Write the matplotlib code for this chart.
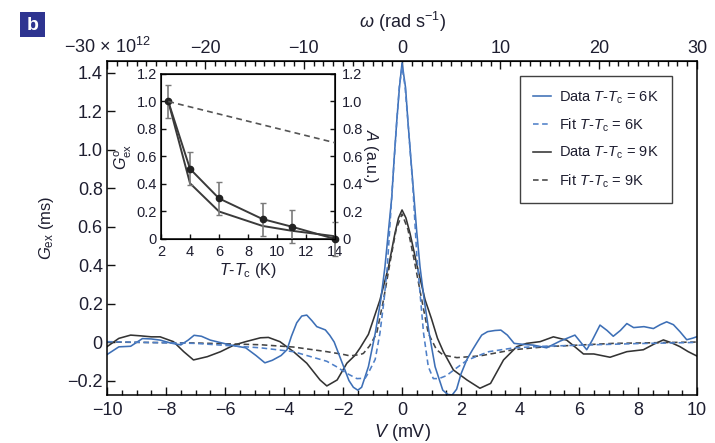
import matplotlib
matplotlib.use("Agg")
import matplotlib.pyplot as plt
from matplotlib import font_manager
from matplotlib.ticker import MultipleLocator, FixedLocator, FuncFormatter
from matplotlib.patches import Rectangle

# ---------------- data ----------------
# T - Tc = 6 K : measured excess conductance
V6 = [-10.0, -9.6, -9.2, -8.8, -8.5, -8.2, -7.85, -7.5, -7.25, -7.05, -6.8, -6.5, -6.1, -5.8,
      -5.3, -4.95, -4.65, -4.4, -4.1, -3.9, -3.75, -3.57, -3.4, -3.23, -3.05, -2.89, -2.6,
      -2.45, -2.3, -2.15, -1.98, -1.8, -1.65, -1.5, -1.37, -1.14, -0.91, -0.72, -0.58, -0.35,
      -0.26, -0.18, -0.09, 0.0, 0.12, 0.2, 0.29, 0.38, 0.5, 0.61, 0.75, 0.92, 1.12, 1.38,
      1.55, 1.7, 1.85, 2.0, 2.2, 2.39, 2.55, 2.7, 2.9, 3.15, 3.35, 3.57, 3.8, 4.1, 4.45, 4.9,
      5.36, 5.86, 6.05, 6.26, 6.45, 6.71, 6.95, 7.16, 7.4, 7.62, 7.85, 8.2, 8.52, 8.75, 8.97,
      9.2, 9.42, 9.65, 9.85, 10.0]
G6 = [-0.065, -0.025, -0.022, 0.018, 0.016, 0.01, -0.005, -0.015, 0.01, 0.035, 0.03, 0.01,
      -0.005, -0.016, -0.03, -0.07, -0.108, -0.095, -0.07, -0.04, 0.03, 0.10, 0.135, 0.14,
      0.11, 0.08, 0.063, 0.035, 0.0, -0.06, -0.128, -0.2, -0.235, -0.25, -0.235, -0.128,
      0.045, 0.22, 0.39, 0.75, 0.97, 1.145, 1.32, 1.45, 1.32, 1.145, 0.97, 0.80, 0.57, 0.39,
      0.22, 0.045, -0.128, -0.25, -0.272, -0.275, -0.245, -0.165, -0.09, -0.04, 0.0, 0.036,
      0.054, 0.06, 0.062, 0.036, -0.007, -0.012, -0.016, -0.03, 0.005, 0.036, 0.0, -0.04,
      0.01, 0.088, 0.06, 0.03, 0.06, 0.096, 0.075, 0.08, 0.07, 0.09, 0.105, 0.09, 0.054,
      0.012, 0.02, 0.028]

# T - Tc = 6 K : fit
V6_fit = [-10.0, -7.0, -4.8, -3.68, -2.55, -2.2, -1.87, -1.53, -1.25, -1.14, -0.91, -0.75,
          -0.61, -0.5, -0.33, -0.18, -0.09, 0.0, 0.1, 0.2, 0.37, 0.5, 0.63, 0.73, 0.89, 1.06,
          1.25, 1.5, 1.8, 2.2, 2.6, 2.94, 3.8, 4.8, 6.1, 8.0, 10.0]
G6_fit = [0.002, -0.007, -0.03, -0.05, -0.1, -0.13, -0.163, -0.19, -0.188, -0.16, -0.09,
          0.045, 0.218, 0.39, 0.80, 1.145, 1.33, 1.43, 1.33, 1.145, 0.80, 0.45, 0.218, 0.045,
          -0.128, -0.19, -0.19, -0.175, -0.14, -0.095, -0.07, -0.05, -0.03, -0.022, -0.016,
          -0.008, -0.002]

# T - Tc = 9 K : measured excess conductance
V9 = [-10.0, -9.6, -9.2, -8.85, -8.5, -8.2, -7.75, -7.4, -7.07, -6.6, -6.15, -5.7, -5.3,
      -4.8, -4.53, -4.14, -3.68, -3.23, -2.78, -2.55, -2.2, -1.87, -1.6, -1.42, -1.14, -0.75,
      -0.46, -0.24, -0.12, 0.0, 0.13, 0.27, 0.52, 0.78, 1.0, 1.2, 1.4, 1.74, 2.2, 2.64, 3.0,
      3.44, 3.89, 4.22, 4.68, 5.13, 5.58, 5.9, 6.15, 6.5, 7.05, 7.62, 8.18, 8.55, 8.86, 9.15,
      9.42, 9.7, 10.0]
G9 = [-0.024, 0.019, 0.036, 0.032, 0.027, 0.027, 0.002, -0.05, -0.093, -0.076, -0.05,
      -0.016, 0.002, 0.022, 0.024, 0.002, -0.05, -0.11, -0.197, -0.228, -0.197, -0.11,
      -0.07, -0.03, 0.04, 0.218, 0.39, 0.565, 0.645, 0.686, 0.645, 0.565, 0.39, 0.22, 0.12,
      0.02, -0.05, -0.145, -0.197, -0.24, -0.215, -0.093, -0.024, -0.007, 0.002, 0.027,
      0.01, -0.03, -0.062, -0.062, -0.079, -0.05, -0.04, -0.01, 0.011, -0.005, -0.024,
      -0.05, -0.073]

# T - Tc = 9 K : fit
V9_fit = [-10.0, -7.0, -4.8, -3.68, -2.55, -2.0, -1.76, -1.42, -1.31, -1.1, -0.86, -0.63,
          -0.4, -0.2, 0.0, 0.2, 0.42, 0.67, 0.89, 1.17, 1.4, 1.86, 2.64, 3.77, 4.9, 7.16, 10.0]
G9_fit = [0.0, -0.005, -0.014, -0.026, -0.05, -0.064, -0.072, -0.065, -0.059, -0.02, 0.045,
          0.218, 0.42, 0.585, 0.665, 0.585, 0.42, 0.218, 0.045, -0.04, -0.068, -0.081,
          -0.072, -0.04, -0.024, -0.007, 0.0]

# inset: temperature dependence
dT = [2.5, 4, 6, 9, 11, 14]
G0_meas = [1.0, 0.51, 0.295, 0.145, 0.09, 0.0]
G0_err = [0.12, 0.12, 0.12, 0.12, 0.12, 0.12]
G0_calc = [1.0, 0.405, 0.20, 0.095, 0.06, 0.02]
dT_A = [2.5, 14]
A_vals = [1.0, 0.70]

omega_ticks = [-30, -20, -10, 0, 10, 20, 30]
omega_labels = ["\u221230 \u00d7 10$^{12}$", "\u221220", "\u221210", "0", "10", "20", "30"]
OMEGA_PER_MV = 3.0  # 10^12 rad/s per mV

legend_labels = ["Data $T$-$T_\\mathrm{c}$ = 6K", "Fit $T$-$T_\\mathrm{c}$ = 6K",
                 "Data $T$-$T_\\mathrm{c}$ = 9K", "Fit $T$-$T_\\mathrm{c}$ = 9K"]

# ---------------- style ----------------
available = {f.name for f in font_manager.fontManager.ttflist}
base = "Liberation Sans" if "Liberation Sans" in available else "DejaVu Sans"
plt.rcParams["font.family"] = [base, "DejaVu Sans"]
plt.rcParams["mathtext.fontset"] = "custom"
plt.rcParams["mathtext.rm"] = base
plt.rcParams["mathtext.it"] = base + ":italic"
plt.rcParams["mathtext.bf"] = base + ":bold"

TXT = "#1e1e30"
plt.rcParams["text.color"] = TXT
plt.rcParams["axes.labelcolor"] = TXT
plt.rcParams["xtick.color"] = "#111111"
plt.rcParams["ytick.color"] = "#111111"
plt.rcParams["xtick.labelcolor"] = TXT
plt.rcParams["ytick.labelcolor"] = TXT

BLUE = "#3d6fb6"
BLUE_FIT = "#4f80c8"
DARK = "#333333"
DARK_FIT = "#444444"


def fmt(v, _pos=None):
    if abs(v) < 1e-9:
        return "0"
    return ("%.1f" % v).replace("-", "\u2212")


def fmt_int(v, _pos=None):
    return ("%d" % round(v)).replace("-", "\u2212")


fig = plt.figure(figsize=(7.15, 4.43), dpi=100)
ax = fig.add_axes([0.1497, 0.1084, 0.8252, 0.754])

l9, = ax.plot(V9, G9, color=DARK, lw=1.15)
l9f, = ax.plot(V9_fit, G9_fit, color=DARK_FIT, lw=1.15, ls=(0, (3.5, 2.2)))
l6, = ax.plot(V6, G6, color=BLUE, lw=1.15)
l6f, = ax.plot(V6_fit, G6_fit, color=BLUE_FIT, lw=1.15, ls=(0, (3.5, 2.2)))

ax.set_xlim(-10, 10)
ax.set_ylim(-0.275, 1.46)
ax.xaxis.set_major_locator(MultipleLocator(2))
ax.xaxis.set_minor_locator(MultipleLocator(0.5))
ax.xaxis.set_major_formatter(FuncFormatter(fmt_int))
ax.yaxis.set_major_locator(FixedLocator([-0.2, 0, 0.2, 0.4, 0.6, 0.8, 1.0, 1.2, 1.4]))
ax.yaxis.set_major_formatter(FuncFormatter(fmt))
ax.tick_params(axis="both", which="both", direction="in", top=False, right=False,
               labelsize=13, width=1.0)
ax.tick_params(axis="x", which="major", length=6, pad=5)
ax.tick_params(axis="x", which="minor", length=3.5)
ax.tick_params(axis="y", which="major", length=6, pad=3)
for s in ax.spines.values():
    s.set_linewidth(1.1)

ax.set_xlabel("$V$ (mV)", fontsize=13, labelpad=2)
ax.set_ylabel("$G_\\mathrm{ex}$ (ms)", fontsize=12, labelpad=8)

top = ax.secondary_xaxis("top", functions=(lambda v: v * OMEGA_PER_MV,
                                          lambda w: w / OMEGA_PER_MV))
top.set_xticks(omega_ticks)
top.set_xticklabels(omega_labels)
top.xaxis.set_minor_locator(MultipleLocator(1))
top.tick_params(axis="x", which="both", direction="in", labelsize=13, width=1.0)
top.tick_params(axis="x", which="major", length=6, pad=3)
top.tick_params(axis="x", which="minor", length=3.5)
top.set_xlabel("$\\omega$ (rad s$^{-1}$)", fontsize=13, labelpad=6)

leg = ax.legend([l6, l6f, l9, l9f], legend_labels, loc="upper left",
                bbox_to_anchor=(0.700, 0.955), fontsize=10.5, frameon=True,
                fancybox=False, edgecolor="#111111", handlelength=1.2,
                handletextpad=0.6, labelspacing=0.75, borderpad=0.9, borderaxespad=0)
leg.get_frame().set_linewidth(1.0)

# ---------------- inset ----------------
axin = fig.add_axes([0.2252, 0.4605, 0.2434, 0.3725])
axin.errorbar(dT, G0_meas, yerr=G0_err, color="#3a3a3a", lw=1.4, marker="o", ms=4.5,
              mfc="#222222", mec="#222222", ecolor="#7a7a7a", elinewidth=1.2, capsize=2.5,
              clip_on=False, zorder=3)
axin.plot(dT, G0_calc, color="#3a3a3a", lw=1.4, zorder=2)
axin.set_xlim(2, 14)
axin.set_ylim(0, 1.2)
axin.xaxis.set_major_locator(MultipleLocator(2))
axin.yaxis.set_major_locator(MultipleLocator(0.2))
axin.yaxis.set_major_formatter(FuncFormatter(fmt))
axin.tick_params(axis="both", direction="in", labelsize=10.5, length=3.5, width=1.0, pad=3)
axin.tick_params(axis="x", pad=4)
axin.set_xlabel("$T$-$T_\\mathrm{c}$ (K)", fontsize=11.5, labelpad=2)
axin.set_ylabel("$G^{\\mathrm{o}}_{\\mathrm{ex}}$", fontsize=11.5, labelpad=2)
for s in axin.spines.values():
    s.set_linewidth(1.1)

axr = axin.twinx()
axr.plot(dT_A, A_vals, color="#555555", lw=1.2, ls=(0, (3.5, 2.5)))
axr.set_ylim(0, 1.2)
axr.yaxis.set_major_locator(MultipleLocator(0.2))
axr.yaxis.set_major_formatter(FuncFormatter(fmt))
axr.tick_params(axis="y", direction="in", labelsize=10.5, length=3.5, width=1.0, pad=5)
axr.set_ylabel("$A$ (a.u.)", fontsize=11.5, rotation=270, labelpad=13)

# ---------------- panel letter ----------------
fig.patches.append(Rectangle((20 / 715, 1 - 37 / 443), 25 / 715, 25 / 443,
                             transform=fig.transFigure, facecolor="#2e3490",
                             edgecolor="none"))
fig.text(32.5 / 715, 1 - 25 / 443, "b", color="white", fontsize=14, fontweight="bold",
         ha="center", va="center")

fig.savefig("out.png", dpi=100)
